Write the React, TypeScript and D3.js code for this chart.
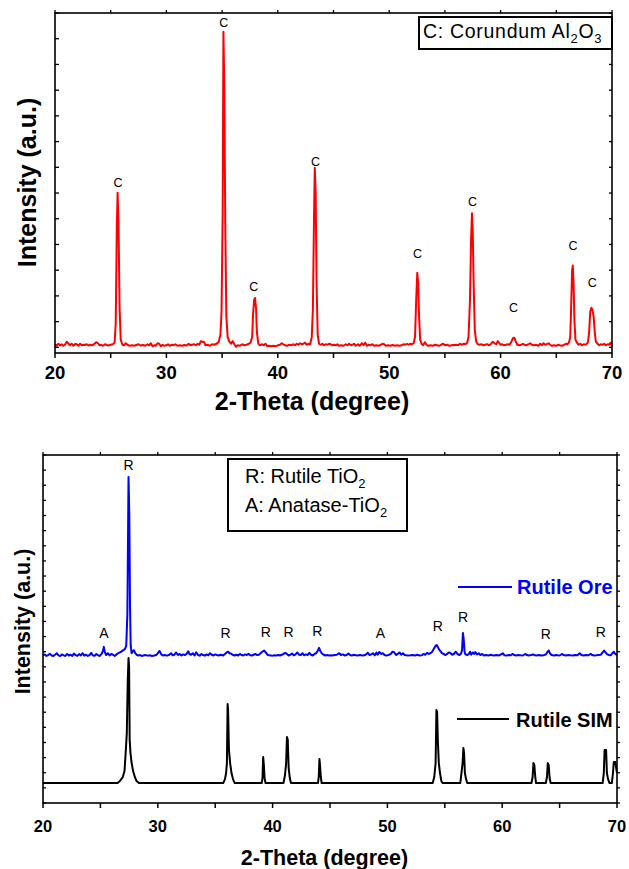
import React from 'react';
import * as d3 from 'd3';

const FONT = "'Liberation Sans', Arial, Helvetica, sans-serif";

const xTickValues = [20, 25, 30, 35, 40, 45, 50, 55, 60, 65, 70];
const xTickLabels = [20, 30, 40, 50, 60, 70];

// Top panel: corundum pattern (2θ, intensity a.u.)
const corundumPattern: [number, number][] = [
  [20, 12], [20.15, 6], [20.3, 14], [20.45, 8], [20.6, 12], [20.75, 6], [20.9, 10], [21.05, 22], [21.2, 15], [21.35, 8],
  [21.5, 14], [21.65, 6], [21.8, 13], [21.95, 12], [22.1, 6], [22.25, 14], [22.4, 8], [22.55, 10], [22.7, 9], [22.85, 12],
  [23.0, 7], [23.15, 10], [23.3, 8], [23.5, 12], [23.7, 20], [23.85, 16], [24.0, 8], [24.15, 10], [24.3, 6], [24.5, 12],
  [24.65, 9], [24.8, 7], [25.0, 10], [25.2, 12], [25.35, 18], [25.45, 90], [25.55, 470], [25.62, 601], [25.7, 480], [25.8, 150],
  [25.9, 30], [26.05, 10], [26.2, 8], [26.35, 16], [26.5, 10], [26.7, 6], [26.9, 8], [27.1, 6], [27.3, 9], [27.5, 12],
  [27.7, 7], [27.9, 9], [28.1, 6], [28.3, 12], [28.45, 8], [28.6, 16], [28.75, 4], [28.9, 8], [29.05, 6], [29.2, 16],
  [29.35, 14], [29.5, 4], [29.65, 10], [29.8, 6], [30.0, 8], [30.15, 12], [30.3, 6], [30.5, 10], [30.65, 8], [30.8, 12],
  [31.0, 6], [31.2, 8], [31.4, 6], [31.6, 9], [31.8, 7], [32.0, 14], [32.15, 8], [32.3, 10], [32.5, 12], [32.65, 8],
  [32.8, 14], [32.95, 10], [33.1, 24], [33.25, 22], [33.4, 20], [33.5, 8], [33.7, 10], [33.9, 6], [34.1, 12], [34.3, 10],
  [34.5, 14], [34.7, 22], [34.85, 50], [34.95, 140], [35.05, 520], [35.12, 1227], [35.2, 1000], [35.28, 500], [35.38, 120], [35.5, 40],
  [35.65, 22], [35.8, 14], [35.95, 24], [36.1, 12], [36.25, 2], [36.4, 8], [36.6, 6], [36.8, 12], [37.0, 8], [37.2, 10],
  [37.4, 14], [37.55, 18], [37.7, 40], [37.78, 130], [37.88, 185], [37.96, 192], [38.05, 150], [38.12, 60], [38.25, 14], [38.4, 8],
  [38.6, 12], [38.75, 8], [38.9, 14], [39.05, 4], [39.2, 6], [39.4, 4], [39.6, 6], [39.8, 4], [40.0, 8], [40.2, 10],
  [40.35, 16], [40.5, 12], [40.65, 8], [40.85, 6], [41.0, 10], [41.2, 8], [41.4, 12], [41.55, 8], [41.7, 14], [41.85, 10],
  [42.0, 16], [42.15, 12], [42.3, 14], [42.45, 18], [42.6, 10], [42.75, 14], [42.9, 12], [43.05, 40], [43.15, 150], [43.25, 500],
  [43.32, 698], [43.4, 600], [43.48, 250], [43.58, 50], [43.7, 14], [43.85, 10], [44.0, 14], [44.15, 8], [44.3, 12], [44.45, 10],
  [44.6, 14], [44.75, 12], [44.9, 8], [45.05, 10], [45.2, 8], [45.35, 12], [45.5, 6], [45.7, 8], [45.9, 6], [46.1, 12],
  [46.25, 8], [46.4, 14], [46.55, 8], [46.7, 10], [46.85, 14], [47.0, 6], [47.2, 12], [47.35, 6], [47.55, 16], [47.7, 8],
  [47.85, 18], [48.0, 6], [48.15, 10], [48.3, 8], [48.5, 12], [48.65, 6], [48.85, 8], [49.05, 6], [49.25, 10], [49.4, 14],
  [49.55, 12], [49.7, 6], [49.9, 8], [50.1, 6], [50.3, 9], [50.5, 6], [50.7, 8], [50.9, 6], [51.1, 8], [51.3, 12],
  [51.45, 10], [51.6, 14], [51.75, 10], [51.9, 14], [52.05, 12], [52.2, 16], [52.32, 40], [52.42, 180], [52.52, 290], [52.6, 250],
  [52.68, 120], [52.78, 30], [52.9, 14], [53.05, 8], [53.2, 20], [53.35, 10], [53.5, 6], [53.7, 8], [53.9, 6], [54.1, 10],
  [54.3, 8], [54.5, 6], [54.65, 10], [54.85, 14], [55.0, 8], [55.2, 10], [55.4, 6], [55.6, 8], [55.8, 9], [56.0, 10],
  [56.2, 8], [56.35, 14], [56.5, 10], [56.7, 14], [56.85, 12], [57.0, 18], [57.12, 40], [57.25, 180], [57.35, 420], [57.43, 521],
  [57.5, 450], [57.58, 250], [57.68, 70], [57.8, 24], [57.95, 12], [58.1, 10], [58.3, 12], [58.45, 8], [58.6, 10], [58.8, 12],
  [59.0, 8], [59.15, 14], [59.3, 22], [59.45, 16], [59.6, 12], [59.75, 24], [59.85, 18], [60.0, 10], [60.15, 12], [60.3, 8],
  [60.5, 10], [60.65, 12], [60.8, 10], [60.95, 20], [61.05, 30], [61.15, 37], [61.25, 36], [61.35, 24], [61.5, 10], [61.65, 8],
  [61.85, 10], [62.0, 14], [62.15, 10], [62.3, 8], [62.5, 12], [62.65, 16], [62.8, 10], [63.0, 8], [63.2, 10], [63.4, 6],
  [63.55, 14], [63.7, 8], [63.85, 16], [64.0, 10], [64.15, 12], [64.3, 16], [64.45, 10], [64.6, 6], [64.8, 8], [65.0, 6],
  [65.15, 10], [65.3, 8], [65.5, 6], [65.7, 10], [65.85, 14], [66.0, 12], [66.15, 20], [66.25, 40], [66.33, 150], [66.42, 300],
  [66.48, 318], [66.55, 250], [66.63, 100], [66.72, 30], [66.85, 18], [67.0, 10], [67.15, 14], [67.3, 8], [67.45, 12], [67.6, 10],
  [67.75, 14], [67.85, 22], [67.95, 60], [68.05, 140], [68.15, 154], [68.25, 145], [68.35, 120], [68.45, 60], [68.55, 22], [68.7, 14],
  [68.85, 8], [69.0, 12], [69.15, 10], [69.3, 14], [69.45, 8], [69.6, 12], [69.75, 10], [69.85, 18], [70.0, 6],
];

// Peak markers "C" (2θ, intensity of label baseline)
const corundumLabels: [number, number][] = [
  [25.65, 624], [35.14, 1247], [37.85, 219], [43.38, 706], [52.55, 348],
  [57.48, 550], [61.15, 138], [66.5, 379], [68.22, 235],
];

// Bottom panel: rutile ore (blue) and simulated rutile (black)
const rutileOre: [number, number][] = [
  [20.0, 975], [20.15, 982], [20.3, 972], [20.45, 978], [20.6, 986], [20.75, 975], [20.9, 972], [21.05, 980], [21.2, 990], [21.35, 976],
  [21.5, 972], [21.65, 982], [21.8, 976], [21.95, 972], [22.1, 985], [22.25, 975], [22.4, 980], [22.55, 972], [22.7, 988], [22.85, 976],
  [23.0, 973], [23.15, 984], [23.3, 975], [23.45, 990], [23.6, 974], [23.75, 980], [23.9, 972], [24.05, 978], [24.2, 992], [24.35, 975],
  [24.5, 973], [24.65, 985], [24.8, 976], [24.95, 972], [25.1, 985], [25.22, 1005], [25.3, 1032], [25.38, 998], [25.5, 978], [25.65, 990],
  [25.8, 975], [25.95, 985], [26.1, 980], [26.25, 972], [26.4, 982], [26.55, 990], [26.7, 995], [26.85, 1002], [27.0, 1010], [27.15, 1020],
  [27.25, 1038], [27.35, 1250], [27.45, 2155], [27.52, 1900], [27.58, 1300], [27.64, 1040], [27.72, 990], [27.82, 1000], [27.92, 1010], [28.02, 992],
  [28.15, 980], [28.3, 975], [28.45, 978], [28.6, 972], [28.75, 975], [28.9, 978], [29.1, 974], [29.3, 976], [29.5, 972], [29.7, 975],
  [29.9, 980], [30.05, 995], [30.15, 1005], [30.3, 982], [30.45, 975], [30.6, 978], [30.8, 974], [31.0, 980], [31.15, 990], [31.3, 976],
  [31.45, 980], [31.6, 995], [31.75, 978], [31.9, 985], [32.05, 975], [32.2, 982], [32.35, 978], [32.5, 985], [32.65, 1003], [32.75, 985],
  [32.9, 980], [33.05, 990], [33.2, 975], [33.35, 996], [33.5, 978], [33.65, 974], [33.8, 984], [33.95, 978], [34.1, 974], [34.25, 982],
  [34.4, 976], [34.55, 990], [34.7, 980], [34.85, 975], [35.0, 982], [35.15, 978], [35.3, 975], [35.5, 980], [35.7, 975], [35.85, 985],
  [36.0, 995], [36.12, 1000], [36.25, 990], [36.4, 986], [36.55, 978], [36.7, 975], [36.85, 980], [37.0, 975], [37.15, 985], [37.3, 978],
  [37.45, 975], [37.6, 982], [37.75, 978], [37.9, 986], [38.05, 976], [38.2, 975], [38.35, 980], [38.5, 985], [38.65, 978], [38.8, 980],
  [38.95, 990], [39.1, 1000], [39.25, 1008], [39.4, 995], [39.55, 980], [39.7, 976], [39.85, 975], [40.0, 974], [40.15, 976], [40.3, 975],
  [40.5, 978], [40.65, 975], [40.8, 980], [40.95, 985], [41.1, 992], [41.25, 985], [41.4, 975], [41.55, 980], [41.7, 988], [41.85, 976],
  [42.0, 982], [42.15, 995], [42.3, 980], [42.45, 978], [42.6, 990], [42.75, 976], [42.9, 982], [43.05, 978], [43.2, 992], [43.35, 980],
  [43.5, 975], [43.65, 985], [43.8, 990], [43.95, 1010], [44.05, 1025], [44.15, 1005], [44.3, 988], [44.45, 980], [44.6, 975], [44.75, 978],
  [44.9, 975], [45.05, 976], [45.2, 975], [45.4, 978], [45.6, 980], [45.8, 990], [45.95, 978], [46.1, 982], [46.3, 975], [46.45, 978],
  [46.6, 988], [46.75, 978], [46.9, 975], [47.1, 980], [47.25, 976], [47.4, 975], [47.6, 978], [47.75, 976], [47.9, 975], [48.1, 980],
  [48.3, 992], [48.45, 978], [48.6, 982], [48.75, 990], [48.9, 976], [49.05, 995], [49.15, 980], [49.3, 998], [49.45, 985], [49.6, 990],
  [49.75, 978], [49.9, 975], [50.1, 978], [50.3, 985], [50.45, 1000], [50.6, 995], [50.75, 978], [50.9, 985], [51.05, 995], [51.2, 980],
  [51.35, 990], [51.5, 978], [51.65, 976], [51.8, 975], [52.0, 976], [52.2, 978], [52.4, 975], [52.6, 980], [52.8, 975], [53.0, 976],
  [53.15, 985], [53.3, 980], [53.45, 992], [53.6, 985], [53.75, 990], [53.9, 1000], [54.05, 1020], [54.2, 1040], [54.3, 1044], [54.4, 1030],
  [54.5, 1015], [54.6, 1005], [54.75, 990], [54.9, 985], [55.05, 978], [55.2, 985], [55.35, 995], [55.5, 990], [55.65, 980], [55.8, 985],
  [55.95, 1000], [56.1, 985], [56.25, 978], [56.4, 985], [56.5, 1010], [56.58, 1124], [56.65, 1080], [56.72, 1000], [56.8, 982], [56.95, 978],
  [57.1, 985], [57.2, 1000], [57.3, 980], [57.45, 995], [57.55, 985], [57.65, 998], [57.8, 982], [57.95, 990], [58.1, 978], [58.25, 985],
  [58.4, 975], [58.6, 978], [58.8, 975], [59.0, 980], [59.15, 976], [59.3, 975], [59.5, 978], [59.7, 975], [59.9, 982], [60.05, 990],
  [60.2, 976], [60.4, 975], [60.6, 978], [60.75, 976], [60.9, 985], [61.05, 978], [61.2, 975], [61.4, 978], [61.6, 976], [61.8, 975],
  [62.0, 985], [62.15, 978], [62.3, 975], [62.5, 978], [62.7, 982], [62.85, 976], [63.0, 975], [63.2, 978], [63.4, 975], [63.6, 976],
  [63.8, 982], [63.95, 1000], [64.05, 1008], [64.15, 990], [64.3, 978], [64.5, 975], [64.7, 978], [64.85, 976], [65.0, 975], [65.2, 985],
  [65.35, 978], [65.55, 975], [65.75, 978], [65.95, 976], [66.15, 975], [66.35, 978], [66.55, 976], [66.75, 990], [66.9, 978], [67.1, 975],
  [67.3, 978], [67.5, 976], [67.7, 985], [67.85, 978], [68.0, 975], [68.2, 976], [68.4, 978], [68.6, 980], [68.75, 995], [68.88, 1008],
  [69.0, 995], [69.15, 982], [69.3, 978], [69.45, 976], [69.6, 990], [69.72, 1000], [69.85, 985], [70.0, 978],
];

const rutileSim: [number, number][] = [
  [20, 132], [26.5, 132], [26.7, 145], [26.95, 172], [27.1, 211], [27.2, 330], [27.3, 462], [27.38, 800], [27.45, 958], [27.5, 900],
  [27.55, 420], [27.62, 330], [27.72, 264], [27.85, 211], [28.0, 172], [28.15, 145], [28.35, 132],
  [35.7, 132], [35.85, 158], [35.95, 198], [36.02, 264], [36.08, 654], [36.12, 620], [36.2, 350], [36.3, 264], [36.42, 198], [36.55, 158], [36.7, 132],
  [39.05, 132], [39.12, 165], [39.18, 304], [39.24, 250], [39.3, 165], [39.38, 132],
  [40.95, 132], [41.08, 185], [41.18, 264], [41.25, 436], [41.32, 420], [41.4, 231], [41.5, 165], [41.6, 132],
  [43.95, 132], [44.02, 172], [44.08, 291], [44.13, 250], [44.2, 172], [44.27, 132],
  [53.95, 132], [54.08, 172], [54.2, 264], [54.27, 615], [54.33, 600], [54.4, 400], [54.48, 264], [54.58, 198], [54.7, 145], [54.8, 132],
  [56.35, 132], [56.45, 198], [56.55, 264], [56.62, 363], [56.68, 330], [56.75, 198], [56.85, 158], [56.95, 132],
  [62.55, 132], [62.65, 172], [62.72, 264], [62.8, 250], [62.88, 172], [62.95, 132],
  [63.8, 132], [63.9, 172], [63.97, 264], [64.05, 250], [64.13, 165], [64.22, 132],
  [68.75, 132], [68.85, 198], [68.92, 350], [69.05, 350], [69.12, 198], [69.22, 158], [69.35, 132],
  [69.55, 132], [69.65, 198], [69.72, 271], [69.85, 271], [69.93, 231], [70, 198],
];

const oreLabelText = ['A', 'R', 'R', 'R', 'R', 'R', 'A', 'R', 'R', 'R', 'R'];
const oreLabelX = [25.3, 27.45, 35.9, 39.4, 41.4, 43.9, 49.4, 54.4, 56.6, 63.8, 68.6];
const oreLabelY = [1092, 2201, 1090, 1097, 1097, 1104, 1090, 1137, 1196, 1084, 1097];

const seriesNames = ['Rutile Ore', 'Rutile SIM'];

type Box = { l: number; r: number; t: number; b: number };

function Frame({ box, x, y, yTicks, tickFont, labelY, leftIn, rightOut }: {
  box: Box; x: d3.ScaleLinear<number, number>; y: d3.ScaleLinear<number, number>;
  yTicks: number[]; tickFont: number; labelY: number; leftIn: number; rightOut: boolean;
}) {
  return (
    <g>
      <rect x={box.l} y={box.t} width={box.r - box.l} height={box.b - box.t} fill="none" stroke="#000" strokeWidth={1.6} />
      {xTickValues.map((v) => (
        <g key={'x' + v}>
          <line x1={x(v)} x2={x(v)} y1={box.b} y2={box.b + 5} stroke="#000" strokeWidth={1.5} />
          <line x1={x(v)} x2={x(v)} y1={box.t} y2={box.t - 3} stroke="#000" strokeWidth={1.3} />
        </g>
      ))}
      {yTicks.map((v) => (
        <g key={'y' + v}>
          <line x1={box.l} x2={box.l + leftIn} y1={y(v)} y2={y(v)} stroke="#000" strokeWidth={1.3} />
          <line x1={box.r} x2={rightOut ? box.r + 3 : box.r - 3} y1={y(v)} y2={y(v)} stroke="#000" strokeWidth={1.3} />
        </g>
      ))}
      {xTickLabels.map((v) => (
        <text key={'l' + v} x={x(v)} y={labelY} textAnchor="middle" fontFamily={FONT} fontWeight="bold" fontSize={tickFont}>{v}</text>
      ))}
    </g>
  );
}

export default function App() {
  const topBox: Box = { l: 55, r: 612, t: 13, b: 353 };
  const xTop = d3.scaleLinear().domain([20, 70]).range([topBox.l, topBox.r]);
  const yTop = d3.scaleLinear().domain([-22, 1300]).range([topBox.b, topBox.t]);
  const botBox: Box = { l: 43, r: 617, t: 455, b: 803 };
  const xBot = d3.scaleLinear().domain([20, 70]).range([botBox.l, botBox.r]);
  const yBot = d3.scaleLinear().domain([0, 2300]).range([botBox.b, botBox.t]);

  const lineTop = d3.line<[number, number]>().x((d) => xTop(d[0])).y((d) => yTop(d[1]));
  const lineBot = d3.line<[number, number]>().x((d) => xBot(d[0])).y((d) => yBot(d[1]));

  const topYTicks = d3.range(0, 1301, 100);
  const botYTicks = d3.range(0, 2301, 100);

  return (
    <svg width={629} height={869} style={{ position: 'absolute', left: 0, top: 0, background: '#fff' }}>
      <rect width={629} height={869} fill="#fff" />
      {/* Top panel */}
      <path d={lineTop(corundumPattern) || ''} fill="none" stroke="#ff0000" strokeWidth={2} strokeLinejoin="round" />
      {corundumLabels.map(([lx, ly], i) => (
        <text key={'c' + i} x={xTop(lx)} y={yTop(ly)} textAnchor="middle" fontFamily={FONT} fontSize={12.5}>C</text>
      ))}
      <Frame box={topBox} x={xTop} y={yTop} yTicks={topYTicks} tickFont={18.5} labelY={379} leftIn={4} rightOut={false} />
      <rect x={419} y={17} width={193} height={32} fill="#fff" stroke="#000" strokeWidth={2} />
      <text x={423} y={37.5} fontFamily={FONT} fontSize={19.5} letterSpacing={0.7}>
        C: Corundum Al<tspan dy={5} fontSize={13}>2</tspan><tspan dy={-5} fontSize={19.5}>O</tspan><tspan dy={5} fontSize={13}>3</tspan>
      </text>
      <text x={312} y={410} textAnchor="middle" fontFamily={FONT} fontWeight="bold" fontSize={25}>2-Theta (degree)</text>
      <text transform="translate(36,182.5) rotate(-90)" textAnchor="middle" fontFamily={FONT} fontWeight="bold" fontSize={25}>Intensity (a.u.)</text>

      {/* Bottom panel */}
      <path d={lineBot(rutileSim) || ''} fill="none" stroke="#000" strokeWidth={2} strokeLinejoin="round" />
      <path d={lineBot(rutileOre) || ''} fill="none" stroke="#0000ff" strokeWidth={2} strokeLinejoin="round" />
      {oreLabelText.map((t, i) => (
        <text key={'o' + i} x={xBot(oreLabelX[i])} y={yBot(oreLabelY[i])} textAnchor="middle" fontFamily={FONT} fontSize={14}>{t}</text>
      ))}
      <Frame box={botBox} x={xBot} y={yBot} yTicks={botYTicks} tickFont={16.5} labelY={832} leftIn={3} rightOut={true} />
      <rect x={228} y={459} width={179} height={72} fill="#fff" stroke="#000" strokeWidth={2} />
      <text x={245} y={483} fontFamily={FONT} fontSize={20}>
        R: Rutile TiO<tspan dy={5} fontSize={13}>2</tspan>
      </text>
      <text x={245} y={512} fontFamily={FONT} fontSize={20}>
        A: Anatase-TiO<tspan dy={5} fontSize={13}>2</tspan>
      </text>
      <line x1={458} x2={512} y1={587} y2={587} stroke="#0000ff" strokeWidth={2} />
      <text x={517} y={594} fontFamily={FONT} fontWeight="bold" fontSize={20} fill="#0000ff">{seriesNames[0]}</text>
      <line x1={457} x2={509} y1={719} y2={719} stroke="#000" strokeWidth={2} />
      <text x={516} y={727} fontFamily={FONT} fontWeight="bold" fontSize={20} fill="#000">{seriesNames[1]}</text>
      <text x={324.5} y={865} textAnchor="middle" fontFamily={FONT} fontWeight="bold" fontSize={21.5}>2-Theta (degree)</text>
      <text transform="translate(30,621.5) rotate(-90)" textAnchor="middle" fontFamily={FONT} fontWeight="bold" fontSize={21.5}>Intensity (a.u.)</text>
    </svg>
  );
}
